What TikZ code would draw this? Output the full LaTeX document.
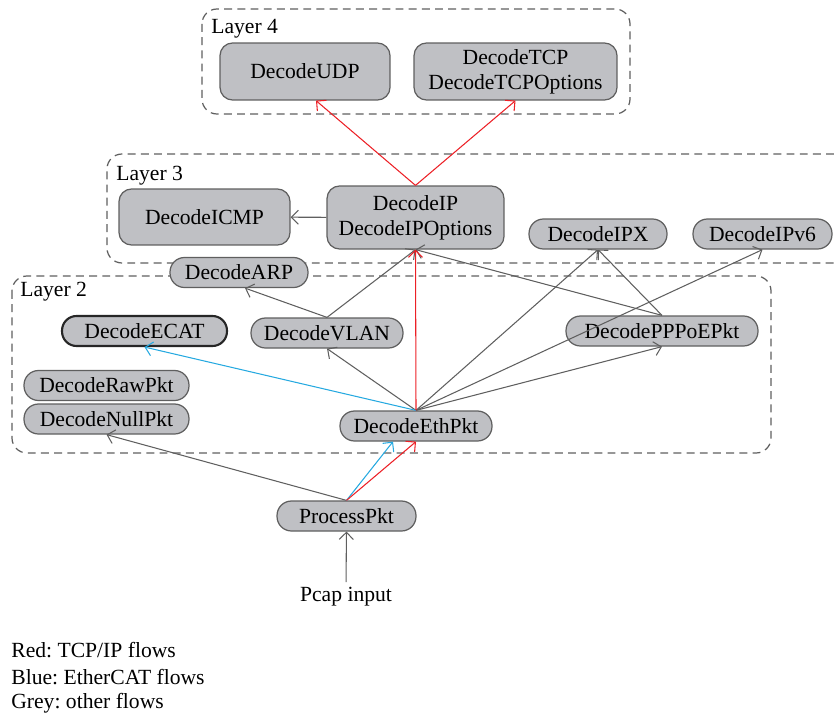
\documentclass[tikz,border=0pt]{standalone}
\usepackage{fontspec}
\setmainfont{Liberation Serif}
\frenchspacing
\usetikzlibrary{arrows.meta}
\definecolor{boxgray}{RGB}{191,192,196}
\definecolor{linegray}{RGB}{95,95,95}
\definecolor{flowred}{RGB}{236,32,38}
\definecolor{flowblue}{RGB}{38,169,224}

\begin{document}
\begin{tikzpicture}[x=0.02cm,y=-0.02cm,
  every node/.style={font=\fontsize{12.3}{14.2}\selectfont},
  >={Straight Barb[length=4pt,width=8pt]},
  layer/.style={draw=linegray,line width=0.7pt,dash pattern=on 4.5pt off 3pt,rounded corners=0.3cm},
  bigbox/.style={draw=linegray,line width=0.7pt,fill=boxgray,rounded corners=0.25cm,align=center,inner sep=0pt},
  pill/.style={draw=linegray,line width=0.7pt,fill=boxgray,rounded corners=0.29cm,minimum height=0.6cm,inner sep=0pt},
  otherflow/.style={->,draw=linegray,line width=0.6pt},
  tcpflow/.style={->,draw=flowred,line width=0.6pt},
  ecatflow/.style={->,draw=flowblue,line width=0.6pt}]
  \useasboundingbox (0,0) rectangle (834,716);
  % layers
  \draw[layer] (202,9) rectangle (630,114);
  \draw[layer] (834,154) -- (107,154) -- (107,263) -- (834,263);
  \draw[layer] (12,276) rectangle (771,453);
  \node[anchor=west,inner sep=0pt] (l4) at (211,29) {Layer 4};
  \node[anchor=west,inner sep=0pt] (l3) at (116,176) {Layer 3};
  \node[anchor=west,inner sep=0pt] (l2) at (20,292) {Layer 2};
  % layer 4
  \node[bigbox,minimum width=3.4cm,minimum height=1.14cm] (udp) at (305,71.5) {DecodeUDP};
  \node[bigbox,minimum width=4.06cm,minimum height=1.14cm] (tcp) at (515.5,71.5) {DecodeTCP\\DecodeTCPOptions};
  % layer 3
  \node[bigbox,minimum width=3.42cm,minimum height=1.12cm] (icmp) at (204.5,217) {DecodeICMP};
  \node[bigbox,minimum width=3.54cm,minimum height=1.26cm] (ip) at (415.5,217.5) {DecodeIP\\DecodeIPOptions};
  \node[pill,minimum width=2.76cm] (ipx) at (598,234) {DecodeIPX};
  \node[pill,minimum width=2.78cm] (ipv6) at (762.5,234) {DecodeIPv6};
  \node[pill,minimum width=2.76cm] (arp) at (239,272.5) {DecodeARP};
  % layer 2
  \node[pill,minimum width=3.3cm,draw=black!85,line width=1.2pt] (ecat) at (144.5,331) {DecodeECAT};
  \node[pill,minimum width=3.04cm] (vlan) at (327,333) {DecodeVLAN};
  \node[pill,minimum width=3.84cm] (pppoe) at (662,331) {DecodePPPoEPkt};
  \node[pill,minimum width=3.3cm] (raw) at (106.5,385.5) {DecodeRawPkt};
  \node[pill,minimum width=3.3cm] (null) at (106.5,419) {DecodeNullPkt};
  \node[pill,minimum width=3.04cm] (eth) at (416,426) {DecodeEthPkt};
  % input
  \node[pill,minimum width=2.78cm] (proc) at (346.5,516) {ProcessPkt};
  \node[inner sep=0.1cm] (pcap) at (346,597) {Pcap input};
  % grey flows
  \draw[otherflow] (pcap) -- (proc);
  \draw[otherflow] (proc.north) -- (null.south);
  \draw[otherflow] (eth.north) -- (vlan.south);
  \draw[otherflow] (eth.north) -- (ipx.south);
  \draw[otherflow] (eth.north) -- (ipv6.south);
  \draw[otherflow] (eth.north) -- (pppoe.south);
  \draw[otherflow] (vlan.north) -- ([xshift=0.12cm]arp.south);
  \draw[otherflow] (vlan.north) -- (ip.south);
  \draw[otherflow] (pppoe.north) -- (ip.south);
  \draw[otherflow] (pppoe.north) -- (ipx.south);
  \draw[otherflow] (ip) -- (icmp);
  % coloured flows
  \draw[ecatflow] (proc.north) -- ([xshift=-0.46cm]eth.south);
  \draw[ecatflow] (eth.north) -- (ecat.south);
  \draw[tcpflow] (proc.north) -- (eth.south);
  \draw[tcpflow] (eth.north) -- (ip.south);
  \draw[tcpflow] (ip.north) -- ([xshift=0.22cm]udp.south);
  \draw[tcpflow] (ip.north) -- (tcp.south);
  % legend
  \node[anchor=west,inner sep=0pt] (lgred) at (11,650) {Red: TCP/IP flows};
  \node[anchor=west,inner sep=0pt] (lgblue) at (11,677) {Blue: EtherCAT flows};
  \node[anchor=west,inner sep=0pt] (lggrey) at (11,703) {Grey: other flows};
\end{tikzpicture}
\end{document}
